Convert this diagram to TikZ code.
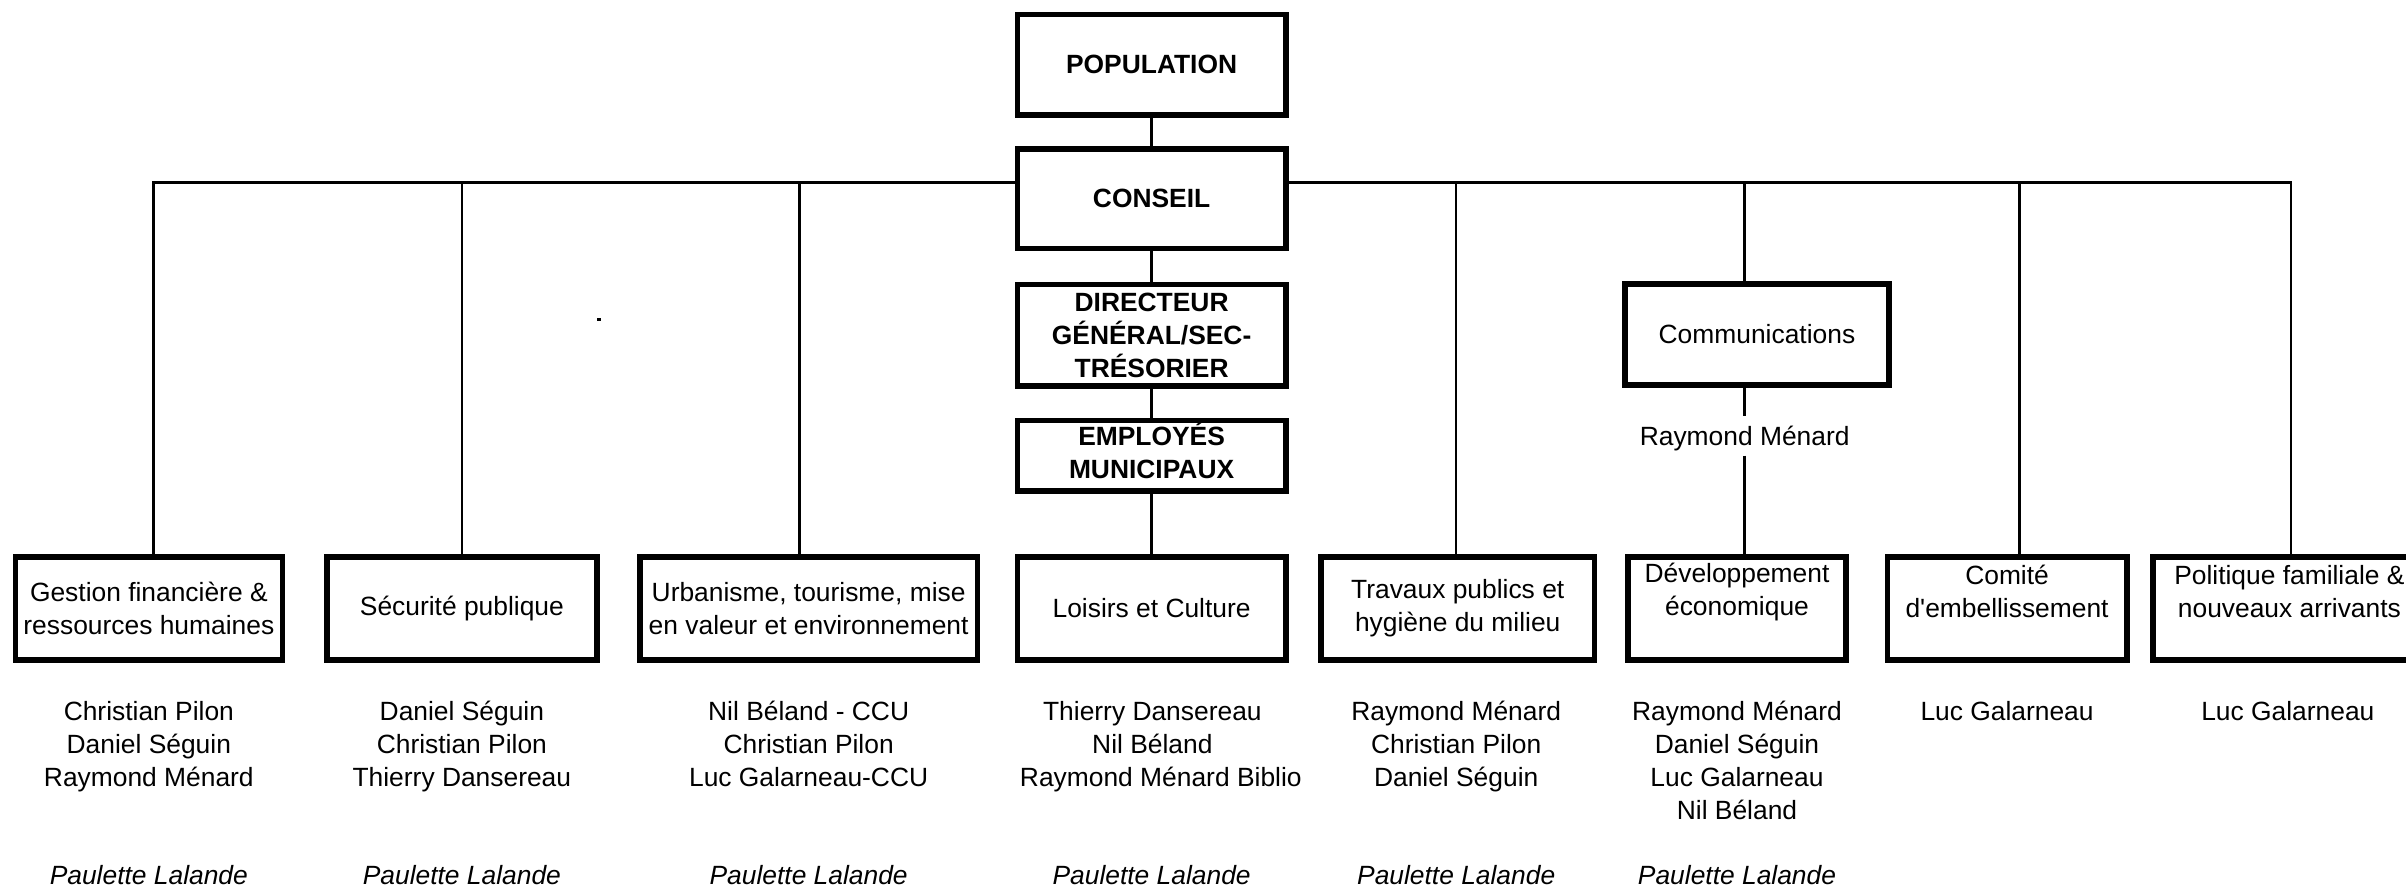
\documentclass[tikz,border=0pt]{standalone}
\usepackage{fontspec}
\setmainfont{Liberation Sans}
\newcommand\myfs{\fontsize{17.2}{21.5}\selectfont}
\tikzset{
  box/.style={draw, line width=3.6pt, inner sep=0pt, align=center, font=\myfs},
  topbox/.style={box, font=\myfs\bfseries, minimum width=175, minimum height=#1},
  botbox/.style={box, minimum width=#1, minimum height=67},
  txt/.style={inner sep=0pt, align=center, font=\myfs},
  names/.style={txt, anchor=north},
  sig/.style={txt, font=\myfs\itshape},
  conn/.style={line width=1.6pt}
}
\begin{document}
\begin{tikzpicture}[x=1pt, y=-1pt]
\useasboundingbox (0,0) rectangle (1568,578);
\clip (0,0) rectangle (1568,578);

% top column
\node[topbox=65.5] (pop)  at (750.5,42.2) {POPULATION};
\node[topbox=65]   (cons) at (750.5,129.5) {CONSEIL};
\node[topbox=66]   (dir)  at (750.5,218.5) {DIRECTEUR\\GÉNÉRAL/SEC-\\TRÉSORIER};
\node[topbox=46]   (emp)  at (750.5,297) {};
\node[txt, font=\myfs\bfseries] (empt) at (750.5,293.5) {EMPLOYÉS\\MUNICIPAUX};

\node[box, minimum width=172, minimum height=66] (comm) at (1145,218) {Communications};
\node[txt, text depth=0pt, inner ysep=6.5pt] (rm) at (1137,283.9) {Raymond Ménard};

% bottom boxes
\node[botbox=174] (b1) at (97,396.5)   {Gestion financière \&\\ressources humaines};
\node[botbox=176] (b2) at (301,396.5)  {Sécurité publique};
\node[botbox=220] (b3) at (527,396.5)  {Urbanisme, tourisme, mise\\en valeur et environnement};
\node[botbox=175] (b4) at (750.5,396.5) {Loisirs et Culture};
\node[botbox=178] (b5) at (950,396.5)  {Travaux publics et\\hygiène du milieu};
\node[botbox=142] (b6) at (1132,396.5) {};
\node[botbox=156] (b7) at (1308,396.5) {};
\node[botbox=178] (b8) at (1492,396.5) {};
\node[txt] (t6) at (1132,385.5) {Développement\\économique};
\node[txt] (t7) at (1308,385.5) {Comité\\d\textquotesingle embellissement};
\node[txt] (t8) at (1492,385.5) {Politique familiale \&\\nouveaux arrivants};

% members
\node[names] (n1) at (97,456.6)   {Christian Pilon\\Daniel Séguin\\Raymond Ménard};
\node[names] (n2) at (301,456.6)  {Daniel Séguin\\Christian Pilon\\Thierry Dansereau};
\node[names] (n3) at (527,456.6)  {Nil Béland - CCU\\Christian Pilon\\Luc Galarneau-CCU};
\node[names] (n4) at (751,456.6)  {Thierry Dansereau\\Nil Béland\\\hspace*{11pt}Raymond Ménard Biblio};
\node[names] (n5) at (949,456.6)  {Raymond Ménard\\Christian Pilon\\Daniel Séguin};
\node[names] (n6) at (1132,456.6) {Raymond Ménard\\Daniel Séguin\\Luc Galarneau\\Nil Béland};
\node[names] (n7) at (1308,456.6) {Luc Galarneau};
\node[names] (n8) at (1491,456.6) {Luc Galarneau};

\node[sig] (p1) at (97,570)    {Paulette Lalande};
\node[sig] (p2) at (301,570)   {Paulette Lalande};
\node[sig] (p3) at (527,570)   {Paulette Lalande};
\node[sig] (p4) at (750.5,570) {Paulette Lalande};
\node[sig] (p5) at (949,570)   {Paulette Lalande};
\node[sig] (p6) at (1132,570)  {Paulette Lalande};

% bus coordinates
\coordinate (d1) at (100,119);
\coordinate (d2) at (301,119);
\coordinate (d3) at (521,119);
\coordinate (d5) at (949,119);
\coordinate (d6) at (1137,119);
\coordinate (d7) at (1316,119);
\coordinate (d8) at (1493,119);

% connectors
\draw[conn] (pop.south) -- (cons.north);
\draw[conn] (cons.south) -- (dir.north);
\draw[conn] (dir.south) -- (emp.north);
\draw[conn] (emp.south) -- (b4.north);

\draw[conn] (cons.west |- d1) -- (d1) -- (d1 |- b1.north);
\draw[conn] (d2) -- (d2 |- b2.north);
\draw[conn] (d3) -- (d3 |- b3.north);
\draw[conn] (cons.east |- d8) -- (d8) -- (d8 |- b8.north);
\draw[conn] (d5) -- (d5 |- b5.north);
\draw[conn] (d6) -- (d6 |- comm.north);
\draw[conn] (d7) -- (d7 |- b7.north);
\draw[conn] (d6 |- comm.south) -- (d6 |- rm.north);
\draw[conn] (d6 |- rm.south) -- (d6 |- b6.north);

% stray mark
\fill (389,207) rectangle (391.5,209.5);
\end{tikzpicture}
\end{document}
